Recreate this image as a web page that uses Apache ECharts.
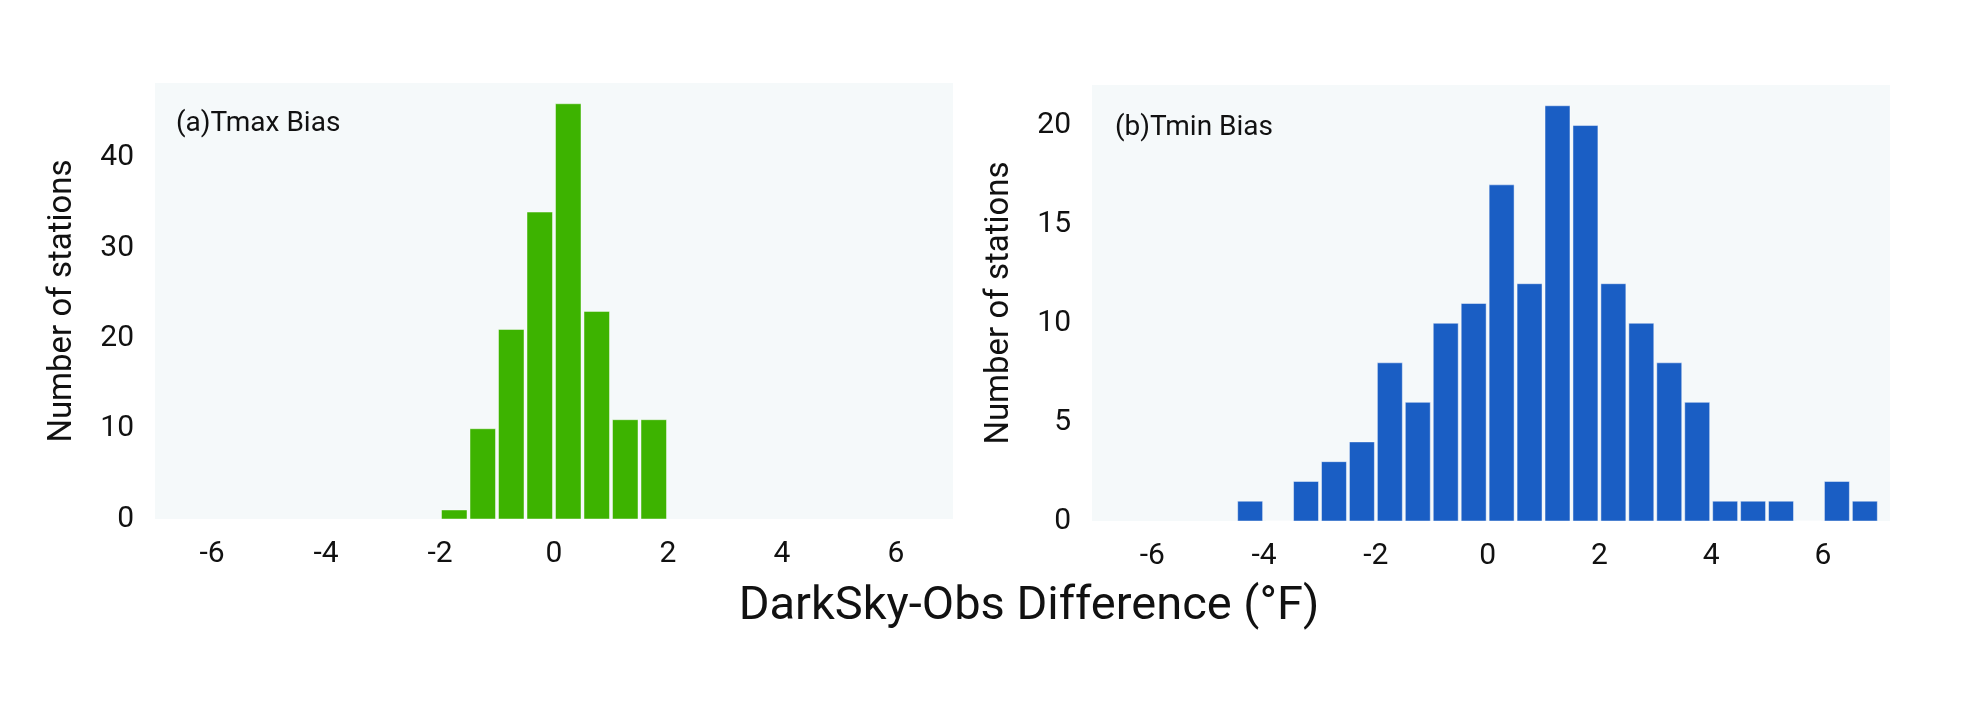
<!DOCTYPE html>
<html>
<head>
<meta charset="utf-8">
<script src="https://cdn.jsdelivr.net/npm/echarts@6/dist/echarts.min.js"></script>
<style>
  html, body { margin: 0; padding: 0; background: #fff; }
  #container { width: 1973px; height: 706px; }
</style>
</head>
<body>
<div id="container"></div>
<script>
// histogram bins (left edges, degF) and station counts
var binWidth = 0.5;
var tmaxBinLeft = [-2, -1.5, -1, -0.5, 0, 0.5, 1, 1.5];
var tmaxCounts = [1, 10, 21, 34, 46, 23, 11, 11];
var tminBinLeft = [-4.5, -4, -3.5, -3, -2.5, -2, -1.5, -1, -0.5, 0, 0.5, 1, 1.5, 2,
                   2.5, 3, 3.5, 4, 4.5, 5, 5.5, 6, 6.5];
var tminCounts = [1, 0, 2, 3, 4, 8, 6, 10, 11, 17, 12, 21, 20, 12, 10, 8, 6, 1, 1, 1, 0, 2, 1];
var xTicks = [-6, -4, -2, 0, 2, 4, 6];
var tmaxYTicks = [0, 10, 20, 30, 40];
var tminYTicks = [0, 5, 10, 15, 20];

var font = 'Roboto';

function toBins(lefts, counts) {
    return lefts.map(function (l, i) {
        return [l, l + binWidth, counts[i]];
    });
}

function barRenderer(color) {
    return function (params, api) {
        var p0 = api.coord([api.value(0), 0]);
        var p1 = api.coord([api.value(1), api.value(2)]);
        return {
            type: 'rect',
            shape: {
                x: p0[0] + 1.5,
                y: p1[1],
                width: p1[0] - p0[0] - 3,
                height: p0[1] - p1[1]
            },
            style: { fill: color, stroke: 'rgba(255,255,255,0.45)', lineWidth: 1 }
        };
    };
}

function xAxisFor(idx, min, max) {
    return {
        type: 'value', gridIndex: idx, min: min, max: max,
        axisLine: { show: false }, axisTick: { show: false }, splitLine: { show: false },
        axisLabel: {
            customValues: xTicks, fontSize: 30, fontFamily: font, color: '#111', margin: 20
        }
    };
}

function yAxisFor(idx, max, ticks) {
    return {
        type: 'value', gridIndex: idx, min: 0, max: max,
        name: 'Number of stations', nameLocation: 'middle', nameGap: 76, nameRotate: 90,
        nameTextStyle: { fontSize: 33, fontFamily: font, color: '#111' },
        axisLine: { show: false }, axisTick: { show: false }, splitLine: { show: false },
        axisLabel: {
            customValues: ticks, fontSize: 30, fontFamily: font, color: '#111', margin: 21
        }
    };
}

var chart = echarts.init(document.getElementById('container'));
var option = {
    animation: false,
    backgroundColor: '#fff',
    title: [
        { text: '(a)Tmax Bias', left: 171, top: 105,
          textStyle: { fontSize: 28, fontWeight: 'normal', fontFamily: font, color: '#111' } },
        { text: '(b)Tmin Bias', left: 1110, top: 109,
          textStyle: { fontSize: 28, fontWeight: 'normal', fontFamily: font, color: '#111' } },
        { text: 'DarkSky-Obs Difference (°F)', left: 1024, top: 579, textAlign: 'center',
          textStyle: { fontSize: 47, fontWeight: 'normal', fontFamily: font, color: '#111' } }
    ],
    grid: [
        { left: 155, top: 83, width: 798, height: 436, show: true,
          backgroundColor: '#f5f9fa', borderWidth: 0 },
        { left: 1092, top: 85, width: 798, height: 436, show: true,
          backgroundColor: '#f5f9fa', borderWidth: 0 }
    ],
    xAxis: [xAxisFor(0, -7, 7), xAxisFor(1, -7.08, 7.2)],
    yAxis: [yAxisFor(0, 48.3, tmaxYTicks), yAxisFor(1, 22.05, tminYTicks)],
    series: [
        { type: 'custom', xAxisIndex: 0, yAxisIndex: 0, renderItem: barRenderer('#3db300'),
          encode: { x: [0, 1], y: 2 }, data: toBins(tmaxBinLeft, tmaxCounts) },
        { type: 'custom', xAxisIndex: 1, yAxisIndex: 1, renderItem: barRenderer('#1a5ec4'),
          encode: { x: [0, 1], y: 2 }, data: toBins(tminBinLeft, tminCounts) }
    ]
};
chart.setOption(option);
</script>
</body>
</html>
